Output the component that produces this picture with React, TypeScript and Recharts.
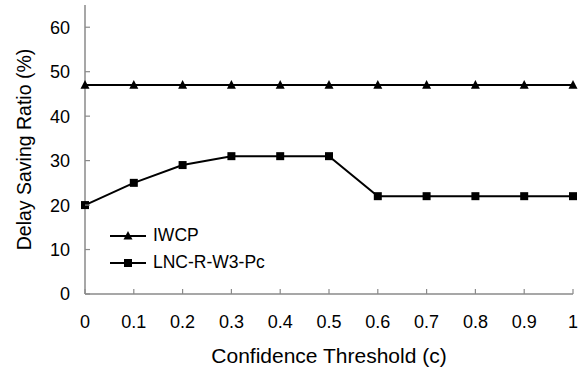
import React from 'react';
import { LineChart, Line, XAxis, YAxis, Legend } from 'recharts';

const thresholds = [0, 0.1, 0.2, 0.3, 0.4, 0.5, 0.6, 0.7, 0.8, 0.9, 1];
const iwcp = [47, 47, 47, 47, 47, 47, 47, 47, 47, 47, 47];
const lnc = [20, 25, 29, 31, 31, 31, 22, 22, 22, 22, 22];
const xTicks = [0, 0.1, 0.2, 0.3, 0.4, 0.5, 0.6, 0.7, 0.8, 0.9, 1];
const xTickLabels = ['0', '0.1', '0.2', '0.3', '0.4', '0.5', '0.6', '0.7', '0.8', '0.9', '1'];
const yTicks = [0, 10, 20, 30, 40, 50, 60];
const seriesNames = ['IWCP', 'LNC-R-W3-Pc'];

const data = thresholds.map((t, i) => ({ t, iwcp: iwcp[i], lnc: lnc[i] }));

const FONT = 'Liberation Sans, Arial, sans-serif';
const AXIS = '#8a8a8a';

const Tri = ({ cx, cy, size = 9 }: any) =>
  cx == null ? null : (
    <path d={`M${cx},${cy - size * 0.55} L${cx + size / 2},${cy + size * 0.4} L${cx - size / 2},${cy + size * 0.4} Z`} fill="#000" />
  );
const Sq = ({ cx, cy, size = 8 }: any) =>
  cx == null ? null : <rect x={cx - size / 2} y={cy - size / 2} width={size} height={size} fill="#000" />;

const XTick = (props: any) => {
  const { x, y, payload } = props;
  const idx = xTicks.indexOf(payload.value);
  const label = idx >= 0 ? xTickLabels[idx] : String(payload.value);
  return (
    <g>
      <line x1={x} y1={y} x2={x} y2={y - 5} stroke={AXIS} strokeWidth={1.2} />
      <text x={x} y={y + 34} textAnchor="middle" fontFamily={FONT} fontSize={18} fill="#000">
        {label}
      </text>
    </g>
  );
};

const YTick = (props: any) => {
  const { x, y, payload } = props;
  return (
    <g>
      <line x1={x} y1={y} x2={x + 5} y2={y} stroke={AXIS} strokeWidth={1.2} />
      <text x={x - 15} y={y} dy="0.36em" textAnchor="end" fontFamily={FONT} fontSize={18} fill="#000">
        {payload.value}
      </text>
    </g>
  );
};

const LegendContent = () => (
  <div style={{ fontFamily: FONT, fontSize: 17.5, color: '#000' }}>
    {seriesNames.map((name, i) => (
      <div key={name} style={{ display: 'flex', alignItems: 'center', height: 27 }}>
        <svg width={40} height={12} style={{ marginRight: 5 }}>
          <line x1={2} y1={6} x2={38} y2={6} stroke="#000" strokeWidth={2} />
          {i === 0 ? <Tri cx={20} cy={6} size={9} /> : <Sq cx={20} cy={6} size={8} />}
        </svg>
        <span>{name}</span>
      </div>
    ))}
  </div>
);

export default function App() {
  return (
    <div style={{ position: 'absolute', left: 0, top: 0, background: '#fff' }}>
      <LineChart width={579} height={371} data={data} margin={{ top: 5, right: 6, bottom: 0, left: 0 }}>
        <XAxis
          dataKey="t"
          type="number"
          domain={[0, 1]}
          ticks={xTicks}
          tickSize={0}
          tickMargin={0}
          tickLine={false}
          tick={<XTick />}
          height={77}
          stroke={AXIS}
          strokeWidth={1.5}
          interval={0}
          label={{
            value: 'Confidence Threshold (c)',
            position: 'center',
            dy: 23,
            style: { fontFamily: FONT, fontSize: 21, fill: '#000' },
          }}
        />
        <XAxis xAxisId="top" orientation="top" dataKey="t" type="number" domain={[0, 1]} height={0} tick={false} tickLine={false} stroke={AXIS} strokeWidth={1.5} />
        <YAxis
          domain={[0, 65]}
          ticks={yTicks}
          tickSize={0}
          tickMargin={0}
          tickLine={false}
          tick={<YTick />}
          width={85}
          stroke={AXIS}
          strokeWidth={1.5}
          interval={0}
          label={{
            value: 'Delay Saving Ratio (%)',
            angle: -90,
            position: 'center',
            dx: -18,
            style: { fontFamily: FONT, fontSize: 19.5, fill: '#000' },
          }}
        />
        <YAxis yAxisId="right" orientation="right" domain={[0, 65]} width={0} tick={false} tickLine={false} stroke={AXIS} strokeWidth={1.5} />
        <Legend
          layout="vertical"
          verticalAlign="middle"
          align="center"
          content={<LegendContent />}
          wrapperStyle={{ left: 108, top: 222, width: 200, height: 54 }}
        />
        <Line dataKey="iwcp" name={seriesNames[0]} stroke="#000" strokeWidth={2} dot={<Tri />} isAnimationActive={false} />
        <Line dataKey="lnc" name={seriesNames[1]} stroke="#000" strokeWidth={2} dot={<Sq />} isAnimationActive={false} />
      </LineChart>
    </div>
  );
}
